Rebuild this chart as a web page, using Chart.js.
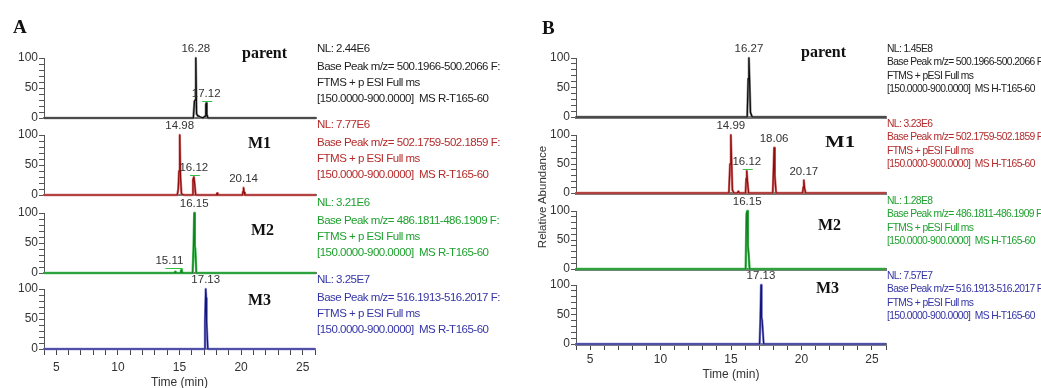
<!DOCTYPE html>
<html>
<head>
<meta charset="utf-8">
<script src="https://cdn.jsdelivr.net/npm/chart.js@4.4.1/dist/chart.umd.min.js"></script>
<style>
  html, body { margin: 0; padding: 0; background: #fff; overflow: hidden; }
  #fig { position: relative; width: 1041px; height: 388px; font-family: "Liberation Sans", Arial, sans-serif; }
  #fig canvas { position: absolute; }
  .panel { position: absolute; font: bold 19px "Liberation Serif", "Times New Roman", serif; line-height: 1; color: #111; }
  .cmpd { position: absolute; font: bold 16px "Liberation Serif", "Times New Roman", serif; line-height: 1; color: #111; transform-origin: left center; }
  .info { position: absolute; white-space: nowrap; }
  .info div { white-space: nowrap; }
  .info.a { font-size: 11.5px; letter-spacing: -0.5px; line-height: 16px; }
  .info.a .nl { margin-bottom: 1.5px; }
  .info.b { font-size: 10.3px; letter-spacing: -0.62px; line-height: 13.3px; }
  .ylab { position: absolute; font-size: 11.5px; color: #333; transform: translate(-50%, -50%) rotate(-90deg); white-space: nowrap; }
</style>
</head>
<body>
<div id="fig"></div>
<script>
/* ── Chromatogram data (retention time in min, relative abundance in %) ── */
const traceNames = ['parent', 'M1', 'M2', 'M3'];
const haloColors = ['#8c8c8c', '#d67676', '#50c060', '#8c8cd4'];
const coreColors = ['#0a0a0a', '#8e0c0c', '#10821e', '#14147a'];
const textColors = ['#222222', '#b52a2a', '#1fa12f', '#3434a6'];
const mzRanges = ['500.1966-500.2066', '502.1759-502.1859', '486.1811-486.1909', '516.1913-516.2017'];
const nlA = ['2.44E6', '7.77E6', '3.21E6', '3.25E7'];
const nlB = ['1.45E8', '3.23E6', '1.28E8', '7.57E7'];
const timeMin = 4;
const timeMax = 26;

// panel A
const aParentT = [4, 16.08, 16.17, 16.22, 16.28, 16.34, 16.42, 16.6, 16.85, 17.03, 17.09, 17.12, 17.17, 17.26, 26];
const aParentI = [0, 0, 28, 30, 100, 7, 4, 2, 0, 3, 22, 25, 6, 0, 0];
const aM1T = [4, 14.78, 14.86, 14.92, 14.98, 15.04, 15.12, 15.3, 15.98, 16.05, 16.12, 16.18, 16.27, 17.95, 18.0, 18.05, 20.05, 20.1, 20.14, 20.19, 20.25, 26];
const aM1I = [0, 0, 10, 40, 100, 30, 2, 0, 0, 25, 30, 20, 0, 0, 3, 0, 0, 6, 12, 4, 0, 0];
const aM2T = [4, 14.55, 14.6, 14.65, 15.02, 15.08, 15.11, 15.15, 15.2, 16.02, 16.09, 16.15, 16.2, 16.24, 16.32, 26];
const aM2I = [0, 0, 2, 0, 0, 4, 5, 3, 0, 0, 40, 100, 45, 40, 0, 0];
const aM3T = [4, 17.02, 17.07, 17.13, 17.17, 17.2, 17.3, 26];
const aM3I = [0, 0, 45, 100, 85, 45, 0, 0];

// panel B
const bParentT = [4, 16.15, 16.22, 16.27, 16.31, 16.38, 16.5, 26];
const bParentI = [0, 0, 65, 100, 70, 8, 0, 0];
const bM1T = [4, 14.85, 14.93, 14.99, 15.04, 15.1, 15.2, 15.45, 15.52, 15.6, 16.03, 16.08, 16.12, 16.17, 16.25, 17.96, 18.01, 18.06, 18.11, 18.2, 20.08, 20.13, 20.17, 20.22, 20.3, 26];
const bM1I = [0, 0, 50, 100, 55, 5, 0, 0, 3, 0, 0, 25, 38, 20, 0, 0, 35, 78, 30, 0, 0, 10, 22, 8, 0, 0];
const bM2T = [4, 16.04, 16.1, 16.15, 16.2, 16.24, 16.32, 26];
const bM2I = [0, 0, 95, 100, 40, 30, 0, 0];
const bM3T = [4, 17.03, 17.08, 17.13, 17.17, 17.21, 17.32, 26];
const bM3I = [0, 0, 40, 100, 45, 40, 0, 0];

// labelled peaks: retention time and apex height
const aPeakT = [[16.28, 17.12], [14.98, 16.12, 20.14], [16.15, 15.11], [17.13]];
const aPeakI = [[100, 25], [100, 30, 12], [100, 5], [100]];
const bPeakT = [[16.27], [14.99, 16.12, 18.06, 20.17], [16.15], [17.13]];
const bPeakI = [[100], [100, 38, 78, 22], [100], [100]];

/* ── Layout (pixels) ── */
const LAYOUT = {
  A: { left: 0, width: 320, yW: 44, padR: 4, tops: [58, 135, 213, 289], hs: [60, 60, 60, 60], xBottomH: 41, borderW: 2, tickPad: 5,
       infoLeft: 317, infoTops: [40, 116, 194, 271],
       names: [[242, 45], [248, 135], [251, 222], [248, 292]] },
  B: { left: 530, width: 360, yW: 46, padR: 4, tops: [58, 135, 211, 285], hs: [59, 58, 58, 59], xBottomH: 38, borderW: 3, tickPad: 2,
       infoLeft: 887, infoTops: [42, 117, 194, 269],
       names: [[801, 44], [825, 134], [818, 217], [816, 280]] }
};
const PAD_T = 22;
// green annotation marks / label shifts used by the original software
const MARKED = { A: [[false, true], [false, true, false], [false, true], [false]], B: [[false], [false, true, false, false], [false], [false]] };
const SHIFT = { A: [[0, 0], [0, 0, 0], [0, -12], [0]], B: [[0], [0, 0, 0, 0], [0], [0]] };

Chart.defaults.font.family = '"Liberation Sans", Arial, sans-serif';
Chart.defaults.font.size = 12;
Chart.defaults.color = '#333';

const peakLabelPlugin = {
  id: 'peakLabels',
  afterDatasetsDraw(chart) {
    const ds = chart.data.datasets[0];
    const peaks = ds.peaks || [];
    const { ctx, scales: { x, y } } = chart;
    ctx.save();
    ctx.font = '11.5px "Liberation Sans", Arial, sans-serif';
    ctx.fillStyle = '#333';
    ctx.textAlign = 'center';
    ctx.textBaseline = 'bottom';
    peaks.forEach(p => {
      const peakX = x.getPixelForValue(p.t);
      const px = peakX + p.dx;
      const py = y.getPixelForValue(p.i) - 3;
      ctx.fillText(p.t.toFixed(2), px, py);
      if (p.mark) {
        ctx.strokeStyle = '#35c04a';
        ctx.lineWidth = 1;
        ctx.beginPath();
        const x1 = Math.max(px + 6, peakX + 1);
        ctx.moveTo(px - 4, py + 1.5);
        ctx.lineTo(x1, py + 1.5);
        if (x1 > px + 7) ctx.lineTo(x1, py + 4);
        ctx.stroke();
      }
    });
    ctx.restore();
  }
};

const fig = document.getElementById('fig');

function makeTrace(panel, k, t, I, peakT, peakI) {
  const g = LAYOUT[panel];
  const last = k === 3;
  const xH = last ? g.xBottomH : 2;
  const padB = last ? 0 : 8;
  const cv = document.createElement('canvas');
  const h = PAD_T + g.hs[k] + xH + padB;
  cv.width = g.width;
  cv.height = h;
  cv.style.left = g.left + 'px';
  cv.style.top = (g.tops[k] - PAD_T) + 'px';
  cv.style.width = g.width + 'px';
  cv.style.height = h + 'px';
  fig.appendChild(cv);

  const peaks = peakT.map((pt, j) => ({ t: pt, i: peakI[j], dx: SHIFT[panel][k][j], mark: MARKED[panel][k][j] }));

  // dataset 0 (dark core) is drawn on top of dataset 1 (light halo)
  new Chart(cv, {
    type: 'scatter',
    data: {
      datasets: [
        { data: t.map((v, j) => ({ x: v, y: I[j] })), showLine: true, borderColor: coreColors[k], borderWidth: 1.2,
          borderJoinStyle: 'round', pointRadius: 0, clip: false, peaks },
        { data: t.map((v, j) => ({ x: v, y: I[j] })), showLine: true, borderColor: haloColors[k], borderWidth: 2.4,
          borderJoinStyle: 'round', pointRadius: 0, clip: false }
      ]
    },
    options: {
      responsive: false,
      animation: false,
      events: [],
      devicePixelRatio: 1,
      layout: { padding: { top: PAD_T, right: g.padR, bottom: padB, left: 0 } },
      plugins: { legend: { display: false }, tooltip: { enabled: false } },
      scales: {
        x: {
          type: 'linear', min: timeMin, max: timeMax,
          afterFit: s => { s.height = xH; },
          border: { color: '#747474', width: g.borderW },
          grid: { display: last, drawOnChartArea: false, tickLength: 6, color: '#444' },
          ticks: {
            display: last, stepSize: 1, autoSkip: false, maxRotation: 0, padding: g.tickPad,
            font: { size: 12 }, color: '#333',
            callback: v => (v % 5 === 0 ? String(v) : '')
          },
          title: { display: last, text: 'Time (min)', color: '#333', font: { size: 12 }, padding: 0 }
        },
        y: {
          min: 0, max: 100,
          afterFit: s => { s.width = g.yW; },
          border: { color: '#555', width: 1 },
          grid: { drawOnChartArea: false, tickLength: 5, color: '#555' },
          ticks: {
            stepSize: 10, autoSkip: false, padding: 1, font: { size: 12 }, color: '#333',
            callback: v => (v % 50 === 0 ? String(v) : '')
          }
        }
      }
    },
    plugins: [peakLabelPlugin]
  });
}

function addDiv(cls, html, left, top, color) {
  const d = document.createElement('div');
  d.className = cls;
  d.innerHTML = html;
  d.style.left = left + 'px';
  d.style.top = top + 'px';
  if (color) d.style.color = color;
  fig.appendChild(d);
  return d;
}

const seriesA = [[aParentT, aParentI], [aM1T, aM1I], [aM2T, aM2I], [aM3T, aM3I]];
const seriesB = [[bParentT, bParentI], [bM1T, bM1I], [bM2T, bM2I], [bM3T, bM3I]];

seriesA.forEach((s, k) => makeTrace('A', k, s[0], s[1], aPeakT[k], aPeakI[k]));
seriesB.forEach((s, k) => makeTrace('B', k, s[0], s[1], bPeakT[k], bPeakI[k]));

// info blocks and compound names
traceNames.forEach((name, k) => {
  const ga = LAYOUT.A, gb = LAYOUT.B;
  addDiv('info a',
    '<div class="nl">NL: ' + nlA[k] + '</div>' +
    '<div>Base Peak m/z= ' + mzRanges[k] + ' F:</div>' +
    '<div>FTMS + p ESI Full ms</div>' +
    '<div>[150.0000-900.0000]&nbsp; MS R-T165-60</div>',
    ga.infoLeft, ga.infoTops[k], textColors[k]);
  addDiv('info b',
    '<div>NL: ' + nlB[k] + '</div>' +
    '<div>Base Peak m/z= ' + mzRanges[k] + ' F:</div>' +
    '<div>FTMS + pESI Full ms</div>' +
    '<div>[150.0000-900.0000]&nbsp; MS H-T165-60</div>',
    gb.infoLeft, gb.infoTops[k], textColors[k]);
  addDiv('cmpd', name, ga.names[k][0], ga.names[k][1]);
  const nb = addDiv('cmpd', name, gb.names[k][0], gb.names[k][1]);
  if (name === 'M1') nb.style.transform = 'scaleX(1.3)';
});

addDiv('panel', 'A', 13, 17);
addDiv('panel', 'B', 542, 18);
addDiv('ylab', 'Relative Abundance', 542, 197);
</script>
</body>
</html>
